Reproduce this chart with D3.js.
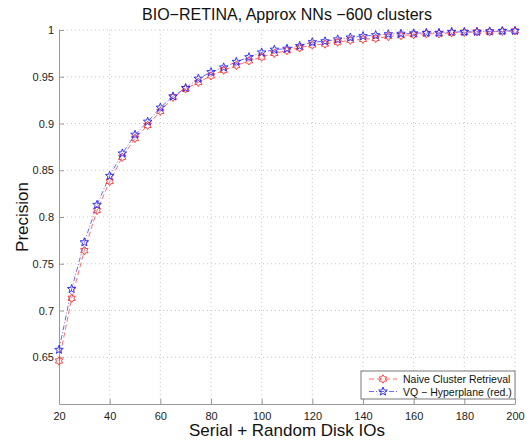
<!DOCTYPE html>
<html lang="en">
<head>
<meta charset="utf-8">
<title>BIO-RETINA</title>
<script src="https://cdn.jsdelivr.net/npm/d3@7"></script>
<style>
  body { margin: 0; background: #fff; }
  svg text { font-family: "Liberation Sans", Arial, sans-serif; }
</style>
</head>
<body>
<script>
// disk IOs (x) and the two precision curves
var ios = d3.range(20, 201, 5);
var naive = [0.646, 0.713, 0.764, 0.807, 0.838, 0.864, 0.884, 0.898, 0.913, 0.928, 0.937, 0.944, 0.951, 0.957, 0.962,
             0.967, 0.971, 0.975, 0.978, 0.981, 0.984, 0.985, 0.987, 0.989, 0.990, 0.991, 0.993, 0.994, 0.995, 0.996,
             0.996, 0.997, 0.9975, 0.998, 0.998, 0.9985, 0.999];
var vq = [0.658, 0.723, 0.773, 0.813, 0.844, 0.868, 0.888, 0.902, 0.917, 0.929, 0.938, 0.948, 0.955, 0.960, 0.966,
          0.971, 0.976, 0.979, 0.980, 0.983, 0.987, 0.988, 0.990, 0.992, 0.9935, 0.9945, 0.9955, 0.996, 0.9965, 0.997,
          0.997, 0.998, 0.998, 0.998, 0.9985, 0.999, 0.999];
var xTicks = [20, 40, 60, 80, 100, 120, 140, 160, 180, 200];
var yTicks = [0.65, 0.7, 0.75, 0.8, 0.85, 0.9, 0.95, 1];
var seriesNames = ["Naive Cluster Retrieval", "VQ \u2212 Hyperplane (red.)"];

var w = 532, h = 441;
var pL = 59, pR = 515, pT = 30, pB = 404;

var svg = d3.select("body").append("svg").attr("width", w).attr("height", h);

var x = d3.scaleLinear().domain([20, 200]).range([pL, pR]);
var y = d3.scaleLinear().domain([0.6, 1]).range([pB, pT]);

// grid
svg.selectAll(".gx").data(xTicks.slice(1)).enter().append("line")
  .attr("x1", d => x(d)).attr("x2", d => x(d)).attr("y1", pT).attr("y2", pB)
  .attr("stroke", "#c8c8c8").attr("stroke-width", 1).attr("stroke-dasharray", "1,3");
svg.selectAll(".gy").data(yTicks).enter().append("line")
  .attr("x1", pL).attr("x2", pR).attr("y1", d => y(d)).attr("y2", d => y(d))
  .attr("stroke", "#c8c8c8").attr("stroke-width", 1).attr("stroke-dasharray", "1,3");

// axes (ticks pointing inward)
var xAxis = svg.append("g").attr("transform", "translate(0," + pB + ")")
  .call(d3.axisBottom(x).tickValues(xTicks).tickSizeInner(-5).tickSizeOuter(0).tickPadding(8).tickFormat(d3.format("d")));
var yAxis = svg.append("g").attr("transform", "translate(" + pL + ",0)")
  .call(d3.axisLeft(y).tickValues(yTicks).tickSizeInner(-5).tickSizeOuter(0).tickPadding(5).tickFormat(d => d === 1 ? "1" : d3.format(".2~f")(d)));
[xAxis, yAxis].forEach(function(a) {
  a.select(".domain").attr("stroke", "#999");
  a.selectAll(".tick line").attr("stroke", "#999");
  a.selectAll(".tick text").attr("fill", "#222").style("font-size", "11px");
});

// lines
var lineGen = function(vals) {
  return d3.line().x((d, i) => x(ios[i])).y(d => y(d))(vals);
};
svg.append("path").attr("d", lineGen(naive)).attr("fill", "none")
  .attr("stroke", "#ff4444").attr("stroke-width", 0.8).attr("stroke-dasharray", "5,3");
svg.append("path").attr("d", lineGen(vq)).attr("fill", "none")
  .attr("stroke", "#4444ff").attr("stroke-width", 0.8).attr("stroke-dasharray", "5,2,1,2");

// markers
function star(points, rOut, rIn) {
  var pts = [];
  for (var k = 0; k < points * 2; k++) {
    var r = k % 2 === 0 ? rOut : rIn;
    var a = -Math.PI / 2 + k * Math.PI / points;
    pts.push([r * Math.cos(a), r * Math.sin(a)]);
  }
  return "M" + pts.map(p => p[0].toFixed(2) + "," + p[1].toFixed(2)).join("L") + "Z";
}
var hexPath = star(6, 4.2, 2.5);
var pentPath = star(5, 4.5, 1.9);

svg.selectAll(".mr").data(naive).enter().append("path")
  .attr("d", hexPath).attr("transform", (d, i) => "translate(" + x(ios[i]) + "," + y(d) + ")")
  .attr("fill", "none").attr("stroke", "#ff3030").attr("stroke-width", 0.9);
svg.selectAll(".mb").data(vq).enter().append("path")
  .attr("d", pentPath).attr("transform", (d, i) => "translate(" + x(ios[i]) + "," + y(d) + ")")
  .attr("fill", "none").attr("stroke", "#2020ff").attr("stroke-width", 0.9);

// title and labels
svg.append("text").attr("x", (pL + pR) / 2).attr("y", 20).attr("text-anchor", "middle")
  .style("font-size", "16px").attr("fill", "#111").text("BIO\u2212RETINA, Approx NNs \u2212600 clusters");
svg.append("text").attr("x", (pL + pR) / 2).attr("y", 436).attr("text-anchor", "middle")
  .style("font-size", "17px").attr("fill", "#111").text("Serial + Random Disk IOs");
svg.append("text").attr("transform", "translate(28," + ((pT + pB) / 2) + ") rotate(-90)")
  .attr("text-anchor", "middle").style("font-size", "17px").attr("fill", "#111").text("Precision");

// legend
var lg = svg.append("g").attr("transform", "translate(361,371)");
lg.append("rect").attr("width", 154).attr("height", 28).attr("fill", "#fff").attr("stroke", "#555").attr("stroke-width", 0.8);
var legItems = [
  { name: seriesNames[0], color: "#ff4444", dash: "5,3", mark: hexPath, mcol: "#ff3030" },
  { name: seriesNames[1], color: "#4444ff", dash: "5,2,1,2", mark: pentPath, mcol: "#2020ff" }
];
legItems.forEach(function(it, i) {
  var yy = 8 + i * 12.5;
  lg.append("line").attr("x1", 8).attr("x2", 36).attr("y1", yy).attr("y2", yy)
    .attr("stroke", it.color).attr("stroke-width", 0.8).attr("stroke-dasharray", it.dash);
  lg.append("path").attr("d", it.mark).attr("transform", "translate(22," + yy + ")")
    .attr("fill", "none").attr("stroke", it.mcol).attr("stroke-width", 0.9);
  lg.append("text").attr("x", 42).attr("y", yy + 4).style("font-size", "10.5px").attr("fill", "#111").text(it.name);
});
</script>
</body>
</html>
